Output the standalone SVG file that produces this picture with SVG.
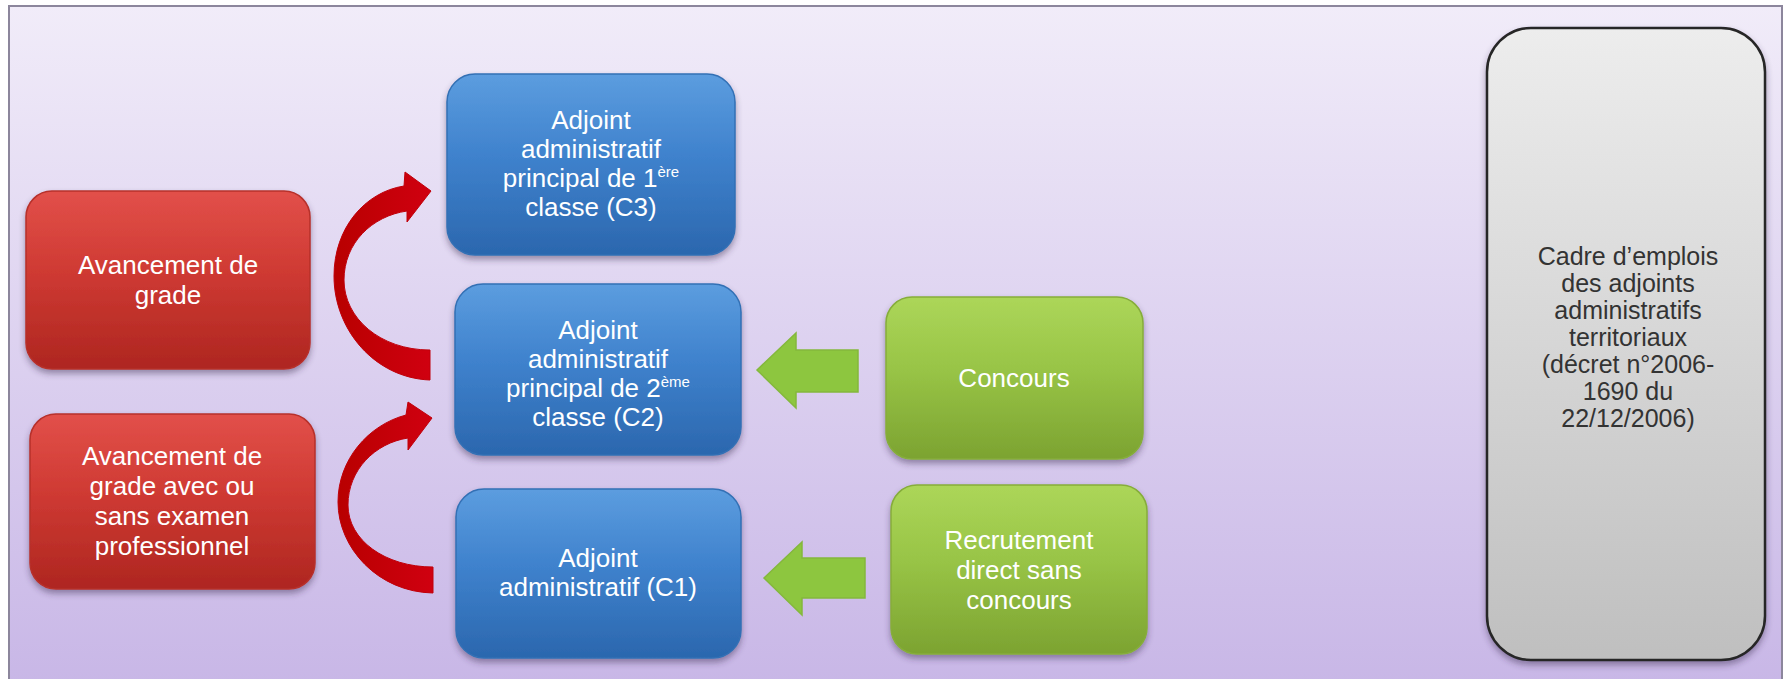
<svg xmlns="http://www.w3.org/2000/svg" width="1788" height="679" viewBox="0 0 1788 679">
<defs>
<linearGradient id="bg" x1="0" y1="0" x2="0" y2="1">
<stop offset="0" stop-color="#f1ecf9"/><stop offset="1" stop-color="#c7b5e6"/>
</linearGradient>
<linearGradient id="gBlue" x1="0" y1="0" x2="0" y2="1">
<stop offset="0" stop-color="#5c9ddf"/><stop offset="0.45" stop-color="#3f82cd"/><stop offset="1" stop-color="#2b67ae"/>
</linearGradient>
<linearGradient id="gRed" x1="0" y1="0" x2="0" y2="1">
<stop offset="0" stop-color="#e2504a"/><stop offset="0.45" stop-color="#cf3a33"/><stop offset="1" stop-color="#ae2620"/>
</linearGradient>
<linearGradient id="gGreen" x1="0" y1="0" x2="0" y2="1">
<stop offset="0" stop-color="#acd659"/><stop offset="0.45" stop-color="#98c446"/><stop offset="1" stop-color="#7ca331"/>
</linearGradient>
<linearGradient id="gGray" x1="0" y1="0" x2="0" y2="1">
<stop offset="0" stop-color="#ededed"/><stop offset="1" stop-color="#bfbfbf"/>
</linearGradient>
<linearGradient id="gArrowRed" x1="0" y1="0" x2="1" y2="0">
<stop offset="0" stop-color="#b80000"/><stop offset="1" stop-color="#d00010"/>
</linearGradient>
<filter id="sh" x="-10%" y="-10%" width="120%" height="125%">
<feDropShadow dx="0" dy="4" stdDeviation="3" flood-color="#3a2a50" flood-opacity="0.45"/>
</filter>
</defs>
<style>
.box{filter:url(#sh);stroke-width:1.5}
.blue{fill:url(#gBlue);stroke:#3270b5}
.red{fill:url(#gRed);stroke:#b7302a}
.green{fill:url(#gGreen);stroke:#86ad3a}
.gray{fill:url(#gGray);stroke:#262626;stroke-width:2.5}
.t{font-family:"Liberation Sans",Arial,sans-serif;font-size:26px;fill:#ffffff;text-anchor:middle}
.tg{font-family:"Liberation Sans",Arial,sans-serif;font-size:25px;fill:#333333;text-anchor:middle}
.sup{font-size:15px}
.ra{fill:url(#gArrowRed);stroke:#c0000a;stroke-width:1}
.ga{fill:#8dc63f;stroke:#84b83c;stroke-width:1.5}
</style>
<rect x="0" y="0" width="1788" height="679" fill="#ffffff"/>
<rect id="frame" x="9" y="6" width="1773" height="700" fill="url(#bg)" stroke="#8c869c" stroke-width="2"/>

<g id="connectors">
<path class="ra" d="M 430,380 C 375,378 334,330 334,276 C 334,228 365,192 404,186 L 405,172 L 431,191 L 407,222 L 407,211 C 372,216 344,243 344,280 C 344,318 380,350 430,350 Z"/>
<path class="ra" d="M 433,593 C 378,592 338,548 338,502 C 338,460 368,425 406,415 L 408,402 L 432,418 L 408,450 L 408,438 C 375,443 348,470 348,505 C 348,540 385,567 433,567 Z"/>
<polygon class="ga" points="757,370 796,333 796,350 858,350 858,392 796,392 796,408"/>
<polygon class="ga" points="764,578 802,542 802,558 865,558 865,598 802,598 802,615"/>
</g>

<g id="avancement-grade">
<rect class="box red" x="26" y="191" width="284" height="178" rx="26"/>
<text class="t" x="168" y="274">Avancement de</text>
<text class="t" x="168" y="304">grade</text>
</g>

<g id="avancement-examen">
<rect class="box red" x="30" y="414" width="285" height="175" rx="26"/>
<text class="t" x="172" y="465">Avancement de</text>
<text class="t" x="172" y="495">grade avec ou</text>
<text class="t" x="172" y="525">sans examen</text>
<text class="t" x="172" y="555">professionnel</text>
</g>

<g id="c3">
<rect class="box blue" x="447" y="74" width="288" height="181" rx="28"/>
<text class="t" x="591" y="129">Adjoint</text>
<text class="t" x="591" y="158">administratif</text>
<text class="t" x="591" y="187">principal de 1<tspan class="sup" dy="-10">ère</tspan></text>
<text class="t" x="591" y="216">classe (C3)</text>
</g>

<g id="c2">
<rect class="box blue" x="455" y="284" width="286" height="171" rx="28"/>
<text class="t" x="598" y="339">Adjoint</text>
<text class="t" x="598" y="368">administratif</text>
<text class="t" x="598" y="397">principal de 2<tspan class="sup" dy="-10">ème</tspan></text>
<text class="t" x="598" y="426">classe (C2)</text>
</g>

<g id="c1">
<rect class="box blue" x="456" y="489" width="285" height="169" rx="28"/>
<text class="t" x="598" y="567">Adjoint</text>
<text class="t" x="598" y="596">administratif (C1)</text>
</g>

<g id="concours">
<rect class="box green" x="886" y="297" width="257" height="162" rx="26"/>
<text class="t" x="1014" y="387">Concours</text>
</g>

<g id="recrutement">
<rect class="box green" x="891" y="485" width="256" height="169" rx="26"/>
<text class="t" x="1019" y="549">Recrutement</text>
<text class="t" x="1019" y="579">direct sans</text>
<text class="t" x="1019" y="609">concours</text>
</g>

<g id="cadre">
<rect class="box gray" x="1487" y="28" width="278" height="632" rx="44"/>
<text class="tg" x="1628" y="265">Cadre d’emplois</text>
<text class="tg" x="1628" y="292">des adjoints</text>
<text class="tg" x="1628" y="319">administratifs</text>
<text class="tg" x="1628" y="346">territoriaux</text>
<text class="tg" x="1628" y="373">(décret n°2006-</text>
<text class="tg" x="1628" y="400">1690 du</text>
<text class="tg" x="1628" y="427">22/12/2006)</text>
</g>
</svg>
